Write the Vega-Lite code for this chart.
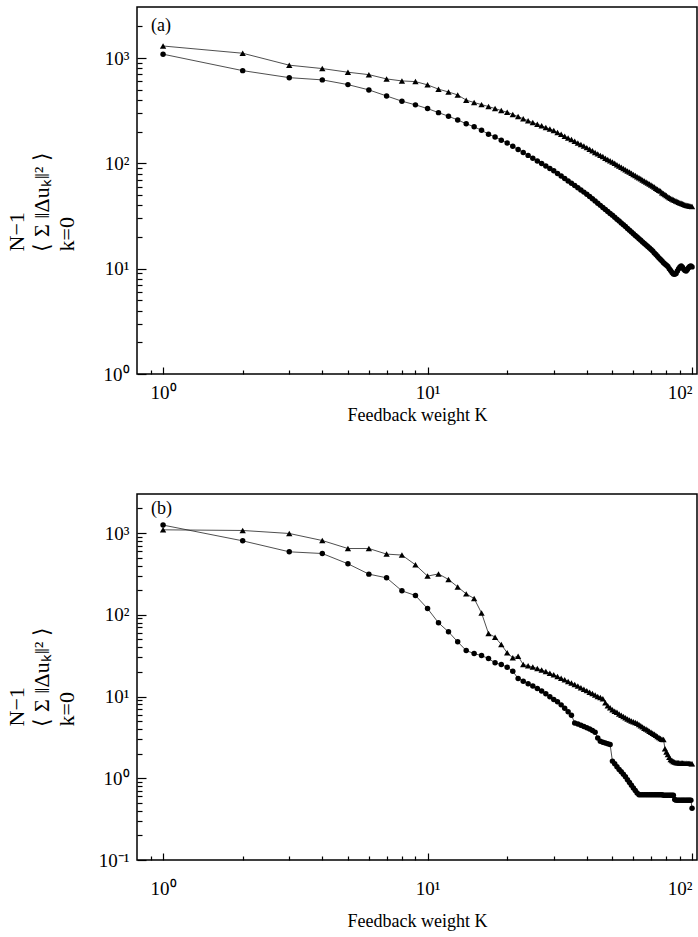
{
  "$schema": "https://vega.github.io/schema/vega-lite/v6.json",
  "background": "white",
  "padding": {"left": 4, "top": 6, "right": 4, "bottom": 0},
  "spacing": 68,
  "config": {
    "view": {"stroke": "black", "strokeWidth": 1.5},
    "font": "Liberation Serif",
    "axis": {
      "grid": false,
      "domain": false,
      "tickColor": "black",
      "tickWidth": 1.2,
      "labelColor": "black",
      "labelFont": "Liberation Serif",
      "labelFontSize": 19,
      "titleColor": "black",
      "titleFont": "Liberation Serif",
      "titleFontWeight": "normal",
      "titleFontSize": 18
    }
  },
  "datasets": {
    "a": [
      {"K":1,"v":1300,"s":"tri"},{"K":2,"v":1110,"s":"tri"},{"K":3,"v":855,"s":"tri"},{"K":4,"v":794,"s":"tri"},{"K":5,"v":733,"s":"tri"},{"K":6,"v":695,"s":"tri"},{"K":7,"v":633,"s":"tri"},{"K":8,"v":606,"s":"tri"},{"K":9,"v":597,"s":"tri"},{"K":10,"v":556,"s":"tri"},
      {"K":11,"v":506,"s":"tri"},{"K":12,"v":476,"s":"tri"},{"K":13,"v":446,"s":"tri"},{"K":14,"v":398,"s":"tri"},{"K":15,"v":378,"s":"tri"},{"K":16,"v":361,"s":"tri"},{"K":17,"v":346,"s":"tri"},{"K":18,"v":331,"s":"tri"},{"K":19,"v":317,"s":"tri"},{"K":20,"v":306,"s":"tri"},
      {"K":21,"v":291,"s":"tri"},{"K":22,"v":278,"s":"tri"},{"K":23,"v":265,"s":"tri"},{"K":24,"v":254,"s":"tri"},{"K":25,"v":244,"s":"tri"},{"K":26,"v":235,"s":"tri"},{"K":27,"v":227,"s":"tri"},{"K":28,"v":219,"s":"tri"},{"K":29,"v":212,"s":"tri"},{"K":30,"v":205,"s":"tri"},
      {"K":31,"v":196,"s":"tri"},{"K":32,"v":189,"s":"tri"},{"K":33,"v":181,"s":"tri"},{"K":34,"v":174,"s":"tri"},{"K":35,"v":168,"s":"tri"},{"K":36,"v":162,"s":"tri"},{"K":37,"v":156,"s":"tri"},{"K":38,"v":151,"s":"tri"},{"K":39,"v":146,"s":"tri"},{"K":40,"v":141,"s":"tri"},
      {"K":41,"v":136,"s":"tri"},{"K":42,"v":132,"s":"tri"},{"K":43,"v":127,"s":"tri"},{"K":44,"v":123,"s":"tri"},{"K":45,"v":119,"s":"tri"},{"K":46,"v":116,"s":"tri"},{"K":47,"v":112,"s":"tri"},{"K":48,"v":109,"s":"tri"},{"K":49,"v":106,"s":"tri"},{"K":50,"v":103,"s":"tri"},
      {"K":51,"v":100,"s":"tri"},{"K":52,"v":97,"s":"tri"},{"K":53,"v":94.5,"s":"tri"},{"K":54,"v":92,"s":"tri"},{"K":55,"v":89.4,"s":"tri"},{"K":56,"v":87,"s":"tri"},{"K":57,"v":84.7,"s":"tri"},{"K":58,"v":82.6,"s":"tri"},{"K":59,"v":80.5,"s":"tri"},{"K":60,"v":78.5,"s":"tri"},
      {"K":61,"v":76.6,"s":"tri"},{"K":62,"v":74.7,"s":"tri"},{"K":63,"v":73,"s":"tri"},{"K":64,"v":71.3,"s":"tri"},{"K":65,"v":69.6,"s":"tri"},{"K":66,"v":68,"s":"tri"},{"K":67,"v":66.5,"s":"tri"},{"K":68,"v":65.1,"s":"tri"},{"K":69,"v":63.7,"s":"tri"},{"K":70,"v":62.3,"s":"tri"},
      {"K":71,"v":61,"s":"tri"},{"K":72,"v":59.5,"s":"tri"},{"K":73,"v":58.1,"s":"tri"},{"K":74,"v":56.7,"s":"tri"},{"K":75,"v":55.4,"s":"tri"},{"K":76,"v":54.5,"s":"tri"},{"K":77,"v":52.5,"s":"tri"},{"K":78,"v":51.6,"s":"tri"},{"K":79,"v":50.5,"s":"tri"},{"K":80,"v":49.4,"s":"tri"},
      {"K":81,"v":48.3,"s":"tri"},{"K":82,"v":47.3,"s":"tri"},{"K":83,"v":46.5,"s":"tri"},{"K":84,"v":45.8,"s":"tri"},{"K":85,"v":45.1,"s":"tri"},{"K":86,"v":44.5,"s":"tri"},{"K":87,"v":43.9,"s":"tri"},{"K":88,"v":43.3,"s":"tri"},{"K":89,"v":42.8,"s":"tri"},{"K":90,"v":42.3,"s":"tri"},
      {"K":91,"v":41.8,"s":"tri"},{"K":92,"v":41.3,"s":"tri"},{"K":93,"v":40.9,"s":"tri"},{"K":94,"v":40.5,"s":"tri"},{"K":95,"v":40.1,"s":"tri"},{"K":96,"v":39.8,"s":"tri"},{"K":97,"v":39.6,"s":"tri"},{"K":98,"v":39.4,"s":"tri"},{"K":99,"v":39.2,"s":"tri"},{"K":100,"v":39,"s":"tri"},
      {"K":1,"v":1087,"s":"circle"},{"K":2,"v":759,"s":"circle"},{"K":3,"v":651,"s":"circle"},{"K":4,"v":620,"s":"circle"},{"K":5,"v":559,"s":"circle"},{"K":6,"v":498,"s":"circle"},{"K":7,"v":436,"s":"circle"},{"K":8,"v":389,"s":"circle"},{"K":9,"v":359,"s":"circle"},{"K":10,"v":331,"s":"circle"},
      {"K":11,"v":303,"s":"circle"},{"K":12,"v":280,"s":"circle"},{"K":13,"v":258,"s":"circle"},{"K":14,"v":238,"s":"circle"},{"K":15,"v":222,"s":"circle"},{"K":16,"v":206,"s":"circle"},{"K":17,"v":189,"s":"circle"},{"K":18,"v":178,"s":"circle"},{"K":19,"v":166,"s":"circle"},{"K":20,"v":156,"s":"circle"},
      {"K":21,"v":145,"s":"circle"},{"K":22,"v":135,"s":"circle"},{"K":23,"v":127,"s":"circle"},{"K":24,"v":119,"s":"circle"},{"K":25,"v":112,"s":"circle"},{"K":26,"v":105.5,"s":"circle"},{"K":27,"v":99.7,"s":"circle"},{"K":28,"v":94.3,"s":"circle"},{"K":29,"v":89.5,"s":"circle"},{"K":30,"v":85,"s":"circle"},
      {"K":31,"v":80.2,"s":"circle"},{"K":32,"v":75.8,"s":"circle"},{"K":33,"v":71.8,"s":"circle"},{"K":34,"v":68.1,"s":"circle"},{"K":35,"v":64.6,"s":"circle"},{"K":36,"v":61.5,"s":"circle"},{"K":37,"v":58.6,"s":"circle"},{"K":38,"v":55.9,"s":"circle"},{"K":39,"v":53.3,"s":"circle"},{"K":40,"v":51,"s":"circle"},
      {"K":41,"v":48.4,"s":"circle"},{"K":42,"v":46.1,"s":"circle"},{"K":43,"v":43.9,"s":"circle"},{"K":44,"v":41.8,"s":"circle"},{"K":45,"v":39.9,"s":"circle"},{"K":46,"v":38.1,"s":"circle"},{"K":47,"v":36.5,"s":"circle"},{"K":48,"v":34.9,"s":"circle"},{"K":49,"v":33.4,"s":"circle"},{"K":50,"v":32.1,"s":"circle"},
      {"K":51,"v":30.8,"s":"circle"},{"K":52,"v":29.5,"s":"circle"},{"K":53,"v":28.4,"s":"circle"},{"K":54,"v":27.2,"s":"circle"},{"K":55,"v":26.1,"s":"circle"},{"K":56,"v":25.1,"s":"circle"},{"K":57,"v":24.1,"s":"circle"},{"K":58,"v":23.2,"s":"circle"},{"K":59,"v":22.3,"s":"circle"},{"K":60,"v":21.5,"s":"circle"},
      {"K":61,"v":20.7,"s":"circle"},{"K":62,"v":20,"s":"circle"},{"K":63,"v":19.2,"s":"circle"},{"K":64,"v":18.6,"s":"circle"},{"K":65,"v":17.9,"s":"circle"},{"K":66,"v":17.3,"s":"circle"},{"K":67,"v":16.8,"s":"circle"},{"K":68,"v":16.2,"s":"circle"},{"K":69,"v":15.7,"s":"circle"},{"K":70,"v":15.2,"s":"circle"},
      {"K":71,"v":14.7,"s":"circle"},{"K":72,"v":14.1,"s":"circle"},{"K":73,"v":13.6,"s":"circle"},{"K":74,"v":13.1,"s":"circle"},{"K":75,"v":12.6,"s":"circle"},{"K":76,"v":12.2,"s":"circle"},{"K":77,"v":11.8,"s":"circle"},{"K":78,"v":11.4,"s":"circle"},{"K":79,"v":11.1,"s":"circle"},{"K":80,"v":10.8,"s":"circle"},
      {"K":81,"v":10.5,"s":"circle"},{"K":82,"v":10,"s":"circle"},{"K":83,"v":9.6,"s":"circle"},{"K":84,"v":9.2,"s":"circle"},{"K":85,"v":8.9,"s":"circle"},{"K":86,"v":8.85,"s":"circle"},{"K":87,"v":9,"s":"circle"},{"K":88,"v":9.5,"s":"circle"},{"K":89,"v":10,"s":"circle"},{"K":90,"v":10.4,"s":"circle"},
      {"K":91,"v":10.6,"s":"circle"},{"K":92,"v":10.3,"s":"circle"},{"K":93,"v":9.9,"s":"circle"},{"K":94,"v":9.6,"s":"circle"},{"K":95,"v":9.5,"s":"circle"},{"K":96,"v":9.8,"s":"circle"},{"K":97,"v":10.2,"s":"circle"},{"K":98,"v":10.5,"s":"circle"},{"K":99,"v":10.6,"s":"circle"},{"K":100,"v":10.4,"s":"circle"}
    ],
    "b": [
      {"K":1,"v":1094,"s":"tri"},{"K":2,"v":1074,"s":"tri"},{"K":3,"v":987,"s":"tri"},{"K":4,"v":809,"s":"tri"},{"K":5,"v":646,"s":"tri"},{"K":6,"v":646,"s":"tri"},{"K":7,"v":552,"s":"tri"},{"K":8,"v":537,"s":"tri"},{"K":9,"v":408,"s":"tri"},{"K":10,"v":297,"s":"tri"},
      {"K":11,"v":316,"s":"tri"},{"K":12,"v":270,"s":"tri"},{"K":13,"v":219,"s":"tri"},{"K":14,"v":180,"s":"tri"},{"K":15,"v":158,"s":"tri"},{"K":16,"v":105,"s":"tri"},{"K":17,"v":58.9,"s":"tri"},{"K":18,"v":53.2,"s":"tri"},{"K":19,"v":43.2,"s":"tri"},{"K":20,"v":34.2,"s":"tri"},
      {"K":21,"v":29.7,"s":"tri"},{"K":22,"v":31.1,"s":"tri"},{"K":23,"v":24.6,"s":"tri"},{"K":24,"v":23.8,"s":"tri"},{"K":25,"v":22.9,"s":"tri"},{"K":26,"v":22,"s":"tri"},{"K":27,"v":21.1,"s":"tri"},{"K":28,"v":20.2,"s":"tri"},{"K":29,"v":19.3,"s":"tri"},{"K":30,"v":18.5,"s":"tri"},
      {"K":31,"v":17.6,"s":"tri"},{"K":32,"v":16.7,"s":"tri"},{"K":33,"v":16,"s":"tri"},{"K":34,"v":15.3,"s":"tri"},{"K":35,"v":14.6,"s":"tri"},{"K":36,"v":14,"s":"tri"},{"K":37,"v":13.4,"s":"tri"},{"K":38,"v":12.8,"s":"tri"},{"K":39,"v":12.3,"s":"tri"},{"K":40,"v":11.8,"s":"tri"},
      {"K":41,"v":11.3,"s":"tri"},{"K":42,"v":10.9,"s":"tri"},{"K":43,"v":10.4,"s":"tri"},{"K":44,"v":10,"s":"tri"},{"K":45,"v":9.7,"s":"tri"},{"K":46,"v":9.4,"s":"tri"},{"K":47,"v":8.4,"s":"tri"},{"K":48,"v":7.7,"s":"tri"},{"K":49,"v":7.3,"s":"tri"},{"K":50,"v":6.9,"s":"tri"},
      {"K":51,"v":6.6,"s":"tri"},{"K":52,"v":6.4,"s":"tri"},{"K":53,"v":6.1,"s":"tri"},{"K":54,"v":5.9,"s":"tri"},{"K":55,"v":5.7,"s":"tri"},{"K":56,"v":5.5,"s":"tri"},{"K":57,"v":5.3,"s":"tri"},{"K":58,"v":5.15,"s":"tri"},{"K":59,"v":5,"s":"tri"},{"K":60,"v":4.9,"s":"tri"},
      {"K":61,"v":4.8,"s":"tri"},{"K":62,"v":4.7,"s":"tri"},{"K":63,"v":4.55,"s":"tri"},{"K":64,"v":4.4,"s":"tri"},{"K":65,"v":4.25,"s":"tri"},{"K":66,"v":4.1,"s":"tri"},{"K":67,"v":4,"s":"tri"},{"K":68,"v":3.9,"s":"tri"},{"K":69,"v":3.75,"s":"tri"},{"K":70,"v":3.65,"s":"tri"},
      {"K":71,"v":3.55,"s":"tri"},{"K":72,"v":3.45,"s":"tri"},{"K":73,"v":3.35,"s":"tri"},{"K":74,"v":3.25,"s":"tri"},{"K":75,"v":3.15,"s":"tri"},{"K":76,"v":3.07,"s":"tri"},{"K":77,"v":3,"s":"tri"},{"K":78,"v":2.97,"s":"tri"},{"K":79,"v":2.3,"s":"tri"},{"K":80,"v":2.1,"s":"tri"},
      {"K":81,"v":1.95,"s":"tri"},{"K":82,"v":1.8,"s":"tri"},{"K":83,"v":1.7,"s":"tri"},{"K":84,"v":1.65,"s":"tri"},{"K":85,"v":1.6,"s":"tri"},{"K":86,"v":1.58,"s":"tri"},{"K":87,"v":1.56,"s":"tri"},{"K":88,"v":1.55,"s":"tri"},{"K":89,"v":1.55,"s":"tri"},{"K":90,"v":1.54,"s":"tri"},
      {"K":91,"v":1.54,"s":"tri"},{"K":92,"v":1.54,"s":"tri"},{"K":93,"v":1.53,"s":"tri"},{"K":94,"v":1.53,"s":"tri"},{"K":95,"v":1.53,"s":"tri"},{"K":96,"v":1.52,"s":"tri"},{"K":97,"v":1.52,"s":"tri"},{"K":98,"v":1.52,"s":"tri"},{"K":99,"v":1.51,"s":"tri"},{"K":100,"v":1.5,"s":"tri"},
      {"K":1,"v":1250,"s":"circle"},{"K":2,"v":802,"s":"circle"},{"K":3,"v":589,"s":"circle"},{"K":4,"v":561,"s":"circle"},{"K":5,"v":420,"s":"circle"},{"K":6,"v":314,"s":"circle"},{"K":7,"v":283,"s":"circle"},{"K":8,"v":196,"s":"circle"},{"K":9,"v":172,"s":"circle"},{"K":10,"v":119,"s":"circle"},
      {"K":11,"v":79.6,"s":"circle"},{"K":12,"v":61.8,"s":"circle"},{"K":13,"v":46.6,"s":"circle"},{"K":14,"v":36.5,"s":"circle"},{"K":15,"v":33.5,"s":"circle"},{"K":16,"v":31.7,"s":"circle"},{"K":17,"v":29.1,"s":"circle"},{"K":18,"v":25.8,"s":"circle"},{"K":19,"v":24.6,"s":"circle"},{"K":20,"v":22.8,"s":"circle"},
      {"K":21,"v":20.4,"s":"circle"},{"K":22,"v":16.6,"s":"circle"},{"K":23,"v":15.4,"s":"circle"},{"K":24,"v":14.3,"s":"circle"},{"K":25,"v":13.4,"s":"circle"},{"K":26,"v":12.5,"s":"circle"},{"K":27,"v":11.7,"s":"circle"},{"K":28,"v":10.8,"s":"circle"},{"K":29,"v":9.9,"s":"circle"},{"K":30,"v":9.2,"s":"circle"},
      {"K":31,"v":8.6,"s":"circle"},{"K":32,"v":7.9,"s":"circle"},{"K":33,"v":7.2,"s":"circle"},{"K":34,"v":6.5,"s":"circle"},{"K":35,"v":5.9,"s":"circle"},{"K":36,"v":4.75,"s":"circle"},{"K":37,"v":4.6,"s":"circle"},{"K":38,"v":4.45,"s":"circle"},{"K":39,"v":4.3,"s":"circle"},{"K":40,"v":4.15,"s":"circle"},
      {"K":41,"v":4,"s":"circle"},{"K":42,"v":3.85,"s":"circle"},{"K":43,"v":3.65,"s":"circle"},{"K":44,"v":3.1,"s":"circle"},{"K":45,"v":2.84,"s":"circle"},{"K":46,"v":2.75,"s":"circle"},{"K":47,"v":2.7,"s":"circle"},{"K":48,"v":2.65,"s":"circle"},{"K":49,"v":2.58,"s":"circle"},{"K":50,"v":1.62,"s":"circle"},
      {"K":51,"v":1.5,"s":"circle"},{"K":52,"v":1.38,"s":"circle"},{"K":53,"v":1.28,"s":"circle"},{"K":54,"v":1.2,"s":"circle"},{"K":55,"v":1.12,"s":"circle"},{"K":56,"v":1.04,"s":"circle"},{"K":57,"v":0.96,"s":"circle"},{"K":58,"v":0.89,"s":"circle"},{"K":59,"v":0.82,"s":"circle"},{"K":60,"v":0.76,"s":"circle"},
      {"K":61,"v":0.71,"s":"circle"},{"K":62,"v":0.66,"s":"circle"},{"K":63,"v":0.63,"s":"circle"},{"K":64,"v":0.63,"s":"circle"},{"K":65,"v":0.63,"s":"circle"},{"K":66,"v":0.63,"s":"circle"},{"K":67,"v":0.63,"s":"circle"},{"K":68,"v":0.63,"s":"circle"},{"K":69,"v":0.63,"s":"circle"},{"K":70,"v":0.63,"s":"circle"},
      {"K":71,"v":0.63,"s":"circle"},{"K":72,"v":0.63,"s":"circle"},{"K":73,"v":0.63,"s":"circle"},{"K":74,"v":0.63,"s":"circle"},{"K":75,"v":0.63,"s":"circle"},{"K":76,"v":0.63,"s":"circle"},{"K":77,"v":0.63,"s":"circle"},{"K":78,"v":0.62,"s":"circle"},{"K":79,"v":0.62,"s":"circle"},{"K":80,"v":0.62,"s":"circle"},
      {"K":81,"v":0.62,"s":"circle"},{"K":82,"v":0.62,"s":"circle"},{"K":83,"v":0.62,"s":"circle"},{"K":84,"v":0.62,"s":"circle"},{"K":85,"v":0.62,"s":"circle"},{"K":86,"v":0.55,"s":"circle"},{"K":87,"v":0.54,"s":"circle"},{"K":88,"v":0.54,"s":"circle"},{"K":89,"v":0.54,"s":"circle"},{"K":90,"v":0.54,"s":"circle"},
      {"K":91,"v":0.54,"s":"circle"},{"K":92,"v":0.54,"s":"circle"},{"K":93,"v":0.54,"s":"circle"},{"K":94,"v":0.54,"s":"circle"},{"K":95,"v":0.54,"s":"circle"},{"K":96,"v":0.54,"s":"circle"},{"K":97,"v":0.54,"s":"circle"},{"K":98,"v":0.54,"s":"circle"},{"K":99,"v":0.54,"s":"circle"},{"K":100,"v":0.43,"s":"circle"}
    ]
  },
  "vconcat": [
    {
      "width": 560,
      "height": 367,
      "layer": [
        {"data": {"name": "a"}, "mark": {"type": "line", "color": "#222", "strokeWidth": 0.8},
         "encoding": {
          "x": {
            "field": "K", "type": "quantitative",
            "scale": {"type": "log", "domain": [0.797, 104.4], "nice": false},
            "axis": {
              "values": [0.9,1,2,3,4,5,6,7,8,9,10,20,30,40,50,60,70,80,90,100],
              "labelExpr": "datum.value==1?'10⁰':datum.value==10?'10¹':datum.value==100?'10²':''",
              "tickSize": {"condition": {"test": "datum.value==1||datum.value==10||datum.value==100", "value": -7}, "value": -4},
              "labelPadding": 16,
              "labelFlush": 8,
              "titlePadding": 4,
              "title": "Feedback weight K"
            }
          },
          "y": {
            "field": "v", "type": "quantitative",
            "scale": {"type": "log", "domain": [1, 3050], "nice": false},
            "axis": {
              "values": [1,2,3,4,5,6,7,8,9,10,20,30,40,50,60,70,80,90,100,200,300,400,500,600,700,800,900,1000,2000],
              "labelExpr": "datum.value==1?'10⁰':datum.value==10?'10¹':datum.value==100?'10²':datum.value==1000?'10³':''",
              "tickSize": {"condition": {"test": "datum.value==1||datum.value==10||datum.value==100||datum.value==1000", "value": -9}, "value": -5},
              "labelPadding": 17,
              "title": ["\u2009N−1", "⟨ Σ ‖Δuₖ‖² ⟩", "\u2009k=0"],
              "titleFontSize": 22,
              "titleLineHeight": 25,
              "titleAlign": "left",
              "titleX": -109,
              "titleY": 244
            }
          },
          "detail": {"field": "s"}
        }},
        {"data": {"name": "a"}, "mark": {"type": "point", "filled": true, "color": "black", "opacity": 1},
         "encoding": {
           "x": {"field": "K", "type": "quantitative"},
           "y": {"field": "v", "type": "quantitative"},
           "shape": {"field": "s", "type": "nominal", "scale": {"domain": ["circle", "tri"], "range": ["circle", "triangle-up"]}, "legend": null},
           "size": {"condition": {"test": "datum.s=='tri'", "value": 40}, "value": 30}
         }},
        {"data": {"name": "a"},
         "transform": [{"filter": "datum.K == 1 && datum.s == 'tri'"}],
         "mark": {"type": "text", "text": "(a)", "align": "left", "baseline": "alphabetic", "font": "Liberation Serif", "fontSize": 18, "fill": "black"},
         "encoding": {"x": {"datum": 0.9, "type": "quantitative"}, "y": {"datum": 1800, "type": "quantitative"}}}
      ]
    },
    {
      "width": 560,
      "height": 366,
      "layer": [
        {"data": {"name": "b"}, "mark": {"type": "line", "color": "#222", "strokeWidth": 0.8},
         "encoding": {
          "x": {
            "field": "K", "type": "quantitative",
            "scale": {"type": "log", "domain": [0.797, 104.4], "nice": false},
            "axis": {
              "values": [0.9,1,2,3,4,5,6,7,8,9,10,20,30,40,50,60,70,80,90,100],
              "labelExpr": "datum.value==1?'10⁰':datum.value==10?'10¹':datum.value==100?'10²':''",
              "tickSize": {"condition": {"test": "datum.value==1||datum.value==10||datum.value==100", "value": -7}, "value": -4},
              "labelPadding": 26,
              "labelFlush": 8,
              "titlePadding": 14,
              "title": "Feedback weight K"
            }
          },
          "y": {
            "field": "v", "type": "quantitative",
            "scale": {"type": "log", "domain": [0.1, 3000], "nice": false},
            "axis": {
              "values": [0.1,0.2,0.3,0.4,0.5,0.6,0.7,0.8,0.9,1,2,3,4,5,6,7,8,9,10,20,30,40,50,60,70,80,90,100,200,300,400,500,600,700,800,900,1000,2000],
              "labelExpr": "datum.value==0.1?'10⁻¹':datum.value==1?'10⁰':datum.value==10?'10¹':datum.value==100?'10²':datum.value==1000?'10³':''",
              "tickSize": {"condition": {"test": "datum.value==0.1||datum.value==1||datum.value==10||datum.value==100||datum.value==1000", "value": -9}, "value": -5},
              "labelPadding": 17,
              "title": ["\u2009N−1", "⟨ Σ ‖Δuₖ‖² ⟩", "\u2009k=0"],
              "titleFontSize": 22,
              "titleLineHeight": 25,
              "titleAlign": "left",
              "titleX": -109,
              "titleY": 232
            }
          },
          "detail": {"field": "s"}
        }},
        {"data": {"name": "b"}, "mark": {"type": "point", "filled": true, "color": "black", "opacity": 1},
         "encoding": {
           "x": {"field": "K", "type": "quantitative"},
           "y": {"field": "v", "type": "quantitative"},
           "shape": {"field": "s", "type": "nominal", "scale": {"domain": ["circle", "tri"], "range": ["circle", "triangle-up"]}, "legend": null},
           "size": {"condition": {"test": "datum.s=='tri'", "value": 40}, "value": 30}
         }},
        {"data": {"name": "b"},
         "transform": [{"filter": "datum.K == 1 && datum.s == 'tri'"}],
         "mark": {"type": "text", "text": "(b)", "align": "left", "baseline": "alphabetic", "font": "Liberation Serif", "fontSize": 18, "fill": "black"},
         "encoding": {"x": {"datum": 0.9, "type": "quantitative"}, "y": {"datum": 1720, "type": "quantitative"}}}
      ]
    }
  ]
}
